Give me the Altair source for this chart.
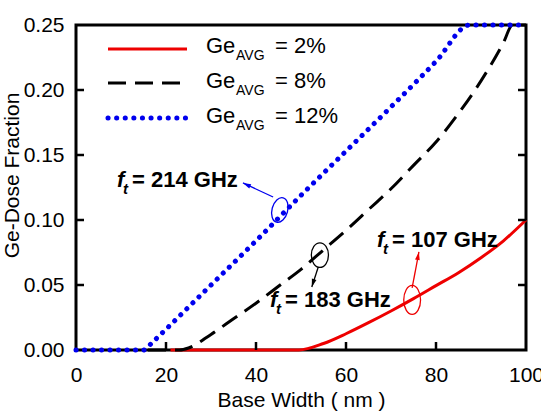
import altair as alt
import pandas as pd

# ---------------- data ----------------
red_x = [21, 49.5, 55, 60, 65, 70, 75, 80, 85, 90, 95, 100]
red_y = [0, 0, 0.005, 0.0125, 0.021, 0.030, 0.0395, 0.0495, 0.0595, 0.071, 0.084, 0.100]

black_x = [16, 23, 25, 30, 35, 40, 45, 50, 55, 60, 65, 70, 75, 80, 85, 90, 95, 97, 100]
black_y = [0, 0, 0.0015, 0.012, 0.024, 0.036, 0.049, 0.062, 0.077, 0.092, 0.108,
           0.124, 0.142, 0.160, 0.182, 0.207, 0.2365, 0.25, 0.25]

blue_x = [0, 15, 17, 20, 25, 30, 40, 50, 60, 70, 80, 87.5, 100]
blue_y = [0, 0, 0.006, 0.016, 0.033, 0.050, 0.084, 0.119, 0.153, 0.187, 0.222, 0.25, 0.25]

x_ticks = [0, 20, 40, 60, 80, 100]
y_ticks = [0, 0.05, 0.10, 0.15, 0.20, 0.25]
legend_labels = ["= 2%", "= 8%", "= 12%"]
ann_labels = ["= 214 GHz", "= 183 GHz", "= 107 GHz"]

# annotation anchors (data units): ellipse centre, arrow start, arrow tip
ann_ell_x = [45.3, 54.2, 74.7]
ann_ell_y = [0.1077, 0.073, 0.0385]
ann_from_x = [43.8, 53.8, 74.7]
ann_from_y = [0.1177, 0.0635, 0.0477]
ann_to_x = [37.1, 52.4, 76.2]
ann_to_y = [0.1285, 0.0485, 0.0754]

# ---------------- style ----------------
FONT = "Liberation Sans"
W, H = 450, 325
RED, BLACK, BLUE = "#ee0000", "#000000", "#0000ee"

xs = alt.Scale(domain=[0, 100], nice=False, zero=False)
ys = alt.Scale(domain=[0, 0.25], nice=False)
xaxis = alt.Axis(values=x_ticks, ticks=False, domain=False, grid=False,
                 labelFont=FONT, labelFontSize=21, labelColor="black", labelPadding=14,
                 labelFlush=False,
                 title="Base Width ( nm )", titleFont=FONT, titleFontSize=21,
                 titleFontWeight="normal", titleColor="black",
                 titleX=W / 2, titleY=56, titleBaseline="alphabetic", titleAlign="center")
yaxis = alt.Axis(values=y_ticks, format=".2f", ticks=False, domain=False, grid=False,
                 labelFont=FONT, labelFontSize=21, labelColor="black", labelPadding=12,
                 labelFlush=False,
                 title="Ge-Dose Fraction", titleFont=FONT, titleFontSize=21,
                 titleFontWeight="normal", titleColor="black", titleAngle=270,
                 titleX=-64, titleY=150, titleBaseline="middle", titleAlign="center")


def X(f):
    return alt.X(f, type="quantitative", scale=xs, axis=xaxis)


def Y(f):
    return alt.Y(f, type="quantitative", scale=ys, axis=yaxis)


def curve(xv, yv, **kw):
    df = pd.DataFrame({"x": xv, "y": yv})
    return alt.Chart(df).mark_line(interpolate="monotone", clip=False, **kw).encode(
        x=X("x"), y=Y("y"))


red = curve(red_x, red_y, color=RED, strokeWidth=3)
black = curve(black_x, black_y, color=BLACK, strokeWidth=3, strokeDash=[18, 9])
blue = curve(blue_x, blue_y, color=BLUE, strokeWidth=5, strokeDash=[0.1, 8.4],
             strokeCap="round")

# inward ticks
tick_df_x = pd.DataFrame({"v": x_ticks[1:-1]})
tick_df_y = pd.DataFrame({"v": y_ticks[1:-1]})
tb = alt.Chart(tick_df_x).mark_rule(color="black", strokeWidth=2.5).encode(
    x=X("v"), y=alt.value(H), y2=alt.value(H - 8))
tl = alt.Chart(tick_df_y).mark_rule(color="black", strokeWidth=2.5).encode(
    y=Y("v"), x=alt.value(0), x2=alt.value(8))
tr = alt.Chart(tick_df_y).mark_rule(color="black", strokeWidth=2.5).encode(
    y=Y("v"), x=alt.value(W), x2=alt.value(W - 8))


def ellipse_path(rx):
    k = 0.5523
    a, b = rx * k, rx
    return (f"M0,-1 C{a:.3f},-1 {b:.3f},{-k:.3f} {b:.3f},0 "
            f"C{b:.3f},{k:.3f} {a:.3f},1 0,1 "
            f"C{-a:.3f},1 {-b:.3f},{k:.3f} {-b:.3f},0 "
            f"C{-b:.3f},{-k:.3f} {-a:.3f},-1 0,-1 Z")


ARROW = "M0,0 L0.5,1.7 L-0.5,1.7 Z"

ann_layers = []
ann_style = [
    (BLUE, 0.62, 640, 15, 295),
    (BLACK, 0.70, 600, 0, 197),
    (RED, 0.58, 840, 0, 11),
]
for i, (c, rx, sz, tilt, ang) in enumerate(ann_style):
    e_df = pd.DataFrame({"x": [ann_ell_x[i]], "y": [ann_ell_y[i]]})
    ann_layers.append(alt.Chart(e_df).mark_point(
        shape=ellipse_path(rx), filled=False, size=sz, strokeWidth=1.3, color=c,
        opacity=1, angle=tilt).encode(x=X("x"), y=Y("y")))
    a_df = pd.DataFrame({"x0": [ann_from_x[i]], "y0": [ann_from_y[i]],
                         "x1": [ann_to_x[i]], "y1": [ann_to_y[i]]})
    ann_layers.append(alt.Chart(a_df).mark_rule(color=c, strokeWidth=1.3).encode(
        x=X("x0"), y=Y("y0"), x2="x1", y2="y1"))
    ann_layers.append(alt.Chart(a_df).mark_point(
        shape=ARROW, filled=True, size=90, color=c, opacity=1, angle=ang,
        strokeWidth=0).encode(x=X("x1"), y=Y("y1")))


def txt(s, x, y, size, weight="normal", style="normal", color="black"):
    return alt.Chart(pd.DataFrame({"t": [s]})).mark_text(
        align="left", baseline="alphabetic", font=FONT, fontSize=size,
        fontWeight=weight, fontStyle=style, color=color).encode(
        x=alt.value(x), y=alt.value(y), text="t:N")


text_layers = []
# legend
leg_y = [24, 58, 93]
leg_base = [28, 63, 98]
leg_styles = [dict(color=RED, strokeWidth=3),
              dict(color=BLACK, strokeWidth=3, strokeDash=[18, 9]),
              dict(color=BLUE, strokeWidth=5, strokeDash=[0.1, 8.5], strokeCap="round")]
for i in range(3):
    text_layers.append(alt.Chart(pd.DataFrame({"k": [i]})).mark_rule(**leg_styles[i]).encode(
        x=alt.value(32), x2=alt.value(111), y=alt.value(leg_y[i])))
    text_layers.append(txt("Ge", 130, leg_base[i], 22))
    text_layers.append(txt("AVG", 160, leg_base[i] + 7, 14))
    text_layers.append(txt(legend_labels[i], 199, leg_base[i], 22))

# annotation texts
ann_fx = [41, 194, 301]
ann_base = [162, 282, 222]
for i in range(3):
    text_layers.append(txt("f", ann_fx[i], ann_base[i], 22, "bold", "italic"))
    text_layers.append(txt("t", ann_fx[i] + 6, ann_base[i] + 7, 15, "bold", "italic"))
    text_layers.append(txt(ann_labels[i], ann_fx[i] + 15, ann_base[i], 22, "bold"))

chart = alt.layer(red, black, blue, tb, tl, tr, *ann_layers, *text_layers).properties(
    width=W, height=H,
    autosize=alt.AutoSizeParams(type="none"),
    padding={"left": 76, "top": 25, "right": 15, "bottom": 63},
    background="white",
).configure_view(stroke="black", strokeWidth=3)

chart.save("out.html", embed_options={"renderer": "svg", "actions": False})
